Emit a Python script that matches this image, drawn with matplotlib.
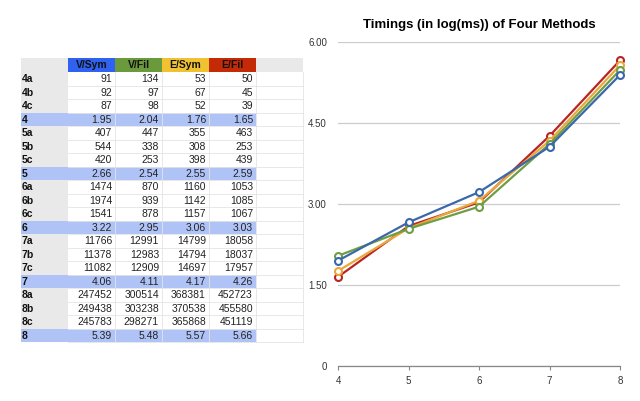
import numpy as np
import matplotlib.pyplot as plt
from matplotlib.patches import Rectangle

plt.rcParams['font.family'] = ['Liberation Sans', 'DejaVu Sans']

# table contents
methods = ["V/Sym", "V/Fil", "E/Sym", "E/Fil"]
header_colors = ["#2f62f0", "#6a9a3c", "#f0c232", "#c42a06"]
row_labels = ["4a", "4b", "4c", "4",
              "5a", "5b", "5c", "5",
              "6a", "6b", "6c", "6",
              "7a", "7b", "7c", "7",
              "8a", "8b", "8c", "8"]
cells = [
    ["91", "134", "53", "50"],
    ["92", "97", "67", "45"],
    ["87", "98", "52", "39"],
    ["1.95", "2.04", "1.76", "1.65"],
    ["407", "447", "355", "463"],
    ["544", "338", "308", "253"],
    ["420", "253", "398", "439"],
    ["2.66", "2.54", "2.55", "2.59"],
    ["1474", "870", "1160", "1053"],
    ["1974", "939", "1142", "1085"],
    ["1541", "878", "1157", "1067"],
    ["3.22", "2.95", "3.06", "3.03"],
    ["11766", "12991", "14799", "18058"],
    ["11378", "12983", "14794", "18037"],
    ["11082", "12909", "14697", "17957"],
    ["4.06", "4.11", "4.17", "4.26"],
    ["247452", "300514", "368381", "452723"],
    ["249438", "303238", "370538", "455580"],
    ["245783", "298271", "365868", "451119"],
    ["5.39", "5.48", "5.57", "5.66"],
]

# chart data (log of mean ms)
sizes = [4, 5, 6, 7, 8]
v_sym = [1.95, 2.66, 3.22, 4.06, 5.39]
v_fil = [2.04, 2.54, 2.95, 4.11, 5.48]
e_sym = [1.76, 2.55, 3.06, 4.17, 5.57]
e_fil = [1.65, 2.59, 3.03, 4.26, 5.66]
line_colors = ["#3a68aa", "#6e9e44", "#eaa83a", "#b82424"]

W, H = 640, 401
fig = plt.figure(figsize=(W / 100, H / 100), dpi=100)

# ---- spreadsheet part, drawn in pixel coords
tab = fig.add_axes([0, 0, 1, 1])
tab.set_xlim(0, W)
tab.set_ylim(H, 0)
tab.axis("off")

x0 = 21
lab_w = 47
col_w = 47
extra_w = 47
top = 58
head_h = 14
row_h = 13.5
grid = "#e4e4e4"
n_rows = len(row_labels)
bottom = top + head_h + n_rows * row_h
right = x0 + lab_w + col_w * len(methods) + extra_w

# grey label column + header row
tab.add_patch(Rectangle((x0, top), lab_w, bottom - top, color="#e9e9e9", lw=0))
tab.add_patch(Rectangle((x0, top), right - x0, head_h, color="#e9e9e9", lw=0))
for j, m in enumerate(methods):
    cx = x0 + lab_w + j * col_w
    tab.add_patch(Rectangle((cx, top), col_w, head_h, color=header_colors[j], lw=0))
    tab.text(cx + col_w / 2, top + head_h / 2 + 0.5, m, ha="center", va="center",
             fontsize=7.5, fontweight="bold", color="#111111")

for i, lab in enumerate(row_labels):
    y = top + head_h + i * row_h
    summary = not lab[-1].isalpha()
    if summary:
        tab.add_patch(Rectangle((x0, y), lab_w + col_w * len(methods), row_h,
                                color="#afc3f7", lw=0))
    tab.plot([x0 + lab_w, right], [y + row_h, y + row_h], color=grid, lw=0.6)
    tab.text(x0 + 1, y + row_h / 2 + 0.5, lab, ha="left", va="center",
             fontsize=7.5, fontweight="bold", color="#111111")
    for j, v in enumerate(cells[i]):
        cx = x0 + lab_w + (j + 1) * col_w
        tab.text(cx - 3, y + row_h / 2 + 0.5, v, ha="right", va="center",
                 fontsize=7.5, color="#222222")

for j in range(len(methods) + 1):
    cx = x0 + lab_w + (j + 1) * col_w
    tab.plot([cx, cx], [top + head_h, bottom], color=grid, lw=0.6)

# ---- line chart
ax = fig.add_axes([338 / W, (H - 366) / H, (620 - 338) / W, (366 - 42) / H])
ax.set_facecolor("white")
series = [v_sym, v_fil, e_sym, e_fil]
zorders = [6, 5, 4, 3]
for s, c, z in zip(series, line_colors, zorders):
    ax.plot(sizes, s, color=c, lw=1.6, marker="o", ms=5, mfc="white",
            mec=c, mew=1.5, zorder=z, clip_on=False)

ax.set_xlim(4, 8)
ax.set_ylim(0, 6)
ax.set_yticks([0, 1.5, 3, 4.5, 6])
ax.set_yticklabels(["0", "1.50", "3.00", "4.50", "6.00"])
ax.set_xticks(sizes)
ax.yaxis.grid(True, color="#cccccc", lw=0.9)
ax.set_axisbelow(True)
for sp in ["top", "right", "left"]:
    ax.spines[sp].set_visible(False)
ax.spines["bottom"].set_color("#888888")
ax.spines["bottom"].set_linewidth(0.9)
ax.tick_params(axis="y", length=0, labelsize=7, labelcolor="#333333", pad=8)
ax.tick_params(axis="x", length=3, color="#888888", labelsize=7,
               labelcolor="#333333", pad=4)
ax.set_title("Timings (in log(ms)) of Four Methods", fontsize=9.5,
             fontweight="bold", pad=10)

fig.savefig("out.png", dpi=100)
